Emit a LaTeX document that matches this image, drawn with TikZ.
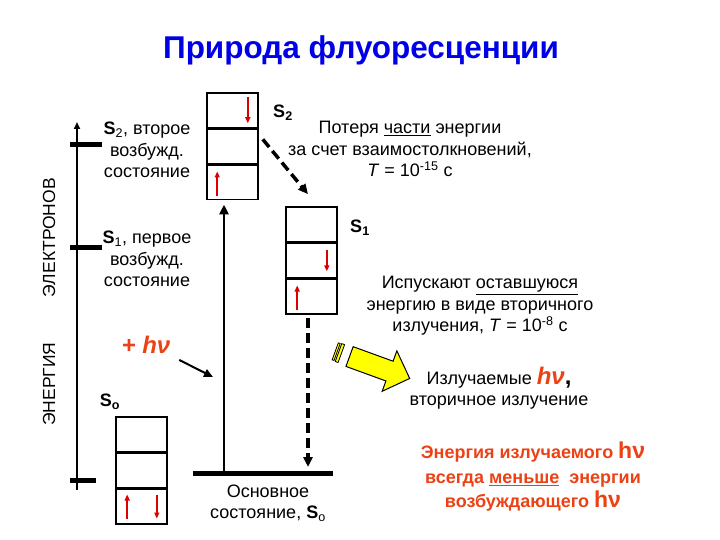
\documentclass[tikz,border=0pt]{standalone}
\usepackage{fontspec}
\setmainfont{Liberation Sans}
\usetikzlibrary{positioning, arrows.meta, shapes.arrows}

\definecolor{titleblue}{RGB}{0,0,230}
\definecolor{spinred}{RGB}{220,0,0}
\definecolor{hvred}{RGB}{235,65,20}
\definecolor{glowyellow}{RGB}{255,255,0}

\begin{document}
\begin{tikzpicture}[x=1pt, y=1pt, node distance=0mm]
      \tikzset{
        cell/.style={
          draw=black, line width=1.6pt, minimum width=51pt, minimum height=34.5pt,
          inner sep=0pt
        },
        spin/.style={draw=spinred, line width=1.6pt, -{Triangle[length=6pt,width=5pt]}},
        txt/.style={font=\fontsize{18}{21.5}\selectfont, align=center, inner sep=0pt},
        levelname/.style={font=\fontsize{18}{20}\selectfont\bfseries, inner sep=0pt},
        levelbar/.style={line width=5pt},
        decay/.style={
          line width=3.5pt, dash pattern=on 10pt off 5pt,
          -{Triangle[length=10pt,width=9pt]}
        },
        pump/.style={line width=2.5pt, -{Triangle[length=10pt,width=9pt]}}
      }
      \useasboundingbox (0,0) rectangle (720,-540);
      \node[font=\fontsize{31.5}{36}\selectfont\bfseries, text=titleblue] (title) at (361,-50) {Природа флуоресценции};

      % energy axis
      \coordinate (axb) at (77,-490);
      \coordinate (axt) at (77,-122);
      \draw[line width=2pt, -{Triangle[length=7pt,width=6pt]}] (axb) -- (axt);
      \draw[levelbar] (70,-145) -- (102,-145);
      \draw[levelbar] (70,-247) -- (102,-247);
      \draw[levelbar] (70,-480) -- (96,-480);
      \node[rotate=90, font=\fontsize{17.5}{20}\selectfont] (axlab) at (49,-302) {ЭНЕРГИЯ\hspace{2.6em}ЭЛЕКТРОНОВ};

      % S2
      \node[cell] (s2a) at (232.5,-110.25) {};
      \node[cell, below=of s2a] (s2b) {};
      \node[cell, below=of s2b] (s2c) {};
      \draw[spin] ([shift={(-11,-5)}]s2a.north east) -- ([shift={(-11,-31)}]s2a.north east);
      \draw[spin] ([shift={(11,4)}]s2c.south west) -- ([shift={(11,29)}]s2c.south west);
      \node[levelname] (s2name) at (283,-113) {S\textsubscript{2}};
      \node[txt] (s2desc) at (147,-150) {\textbf{S}\textsubscript{2}, второе\\возбужд.\\состояние};

      % S1
      \node[cell] (s1a) at (311.5,-224.25) {};
      \node[cell, below=of s1a] (s1b) {};
      \node[cell, below=of s1b] (s1c) {};
      \draw[spin] ([shift={(-11,-8)}]s1b.north east) -- ([shift={(-11,-29)}]s1b.north east);
      \draw[spin] ([shift={(12,5)}]s1c.south west) -- ([shift={(12,29)}]s1c.south west);
      \node[levelname] (s1name) at (360,-228) {S\textsubscript{1}};
      \node[txt] (s1desc) at (147,-259) {\textbf{S}\textsubscript{1}, первое\\возбужд.\\состояние};

      % S0
      \node[cell] (s0a) at (141.5,-434.25) {};
      \node[cell, below=of s0a] (s0b) {};
      \node[cell, below=of s0b] (s0c) {};
      \draw[spin] ([shift={(12,6)}]s0c.south west) -- ([shift={(12,30)}]s0c.south west);
      \draw[spin] ([shift={(-11,30)}]s0c.south east) -- ([shift={(-11,6)}]s0c.south east);
      \node[levelname] (s0name) at (110,-402) {S\textsubscript{o}};

      % ground state and transitions
      \coordinate (gl) at (193,-473);
      \coordinate (gr) at (333,-473);
      \draw[line width=5pt] (gl) -- (gr);
      \node[txt] (grounddesc) at (268,-503) {Основное\\состояние, \textbf{S}\textsubscript{o}};
      \coordinate (ex) at (224,-473);
      \draw[pump, shorten >=4pt] (ex) -- (ex |- s2c.south);
      \draw[decay] ([shift={(4,7)}]s2b.east) -- ([shift={(-3.5,12)}]s1a.north);
      \coordinate (s1drop) at ([shift={(-3.5,-3)}]s1c.south);
      \draw[decay, shorten >=6pt] (s1drop) -- (s1drop |- gl);

      % absorbed photon
      \node[font=\fontsize{24}{28}\selectfont\bfseries\itshape, text=hvred] (hv) at (146,-345) {+ hν};
      \coordinate (hvend) at (213,-377);
      \draw[line width=2pt, shorten <=6pt, -{Triangle[length=9pt,width=8pt]}] (hv.south east) -- (hvend);

      % emitted light
      \begin{scope}[shift={(370,-364)}, rotate=-20, transform shape]
        \node[single arrow, draw=black, fill=glowyellow, line width=1pt, minimum height=64pt,
          minimum width=42pt, single arrow head extend=11pt, single arrow head indent=0pt,
          inner xsep=0pt, inner ysep=10pt] (glow) at (5,0) {};
        \draw[line width=0.8pt, fill=glowyellow] (-37,-9) rectangle (-35,9);
        \draw[line width=0.8pt, fill=glowyellow] (-33.5,-9.5) rectangle (-30.5,9.5);
      \end{scope}

      \node[txt] (loss) at (410,-149) {Потеря \underline{части} энергии\\за счет взаимостолкновений,\\\textit{T} = 10\textsuperscript{-15} с};
      \node[txt] (emit) at (480,-306) {Испускают \underline{оставшуюся}\\энергию в виде вторичного\\излучения, \textit{T} = 10\textsuperscript{-8} с};
      \node[txt] (rad) at (499,-388) {Излучаемые {\color{hvred}\fontsize{24}{22}\selectfont\bfseries\itshape hν}{\bfseries\fontsize{24}{22}\selectfont,}\\вторичное излучение};
      \node[txt, text=hvred, font=\fontsize{18}{24.5}\selectfont\bfseries] (note) at (533,-477) {Энергия излучаемого {\fontsize{23}{23}\selectfont hν}\\всегда \underline{меньше}\ \ энергии\\возбуждающего {\fontsize{23}{23}\selectfont hν}};
    \end{tikzpicture}
\end{document}
